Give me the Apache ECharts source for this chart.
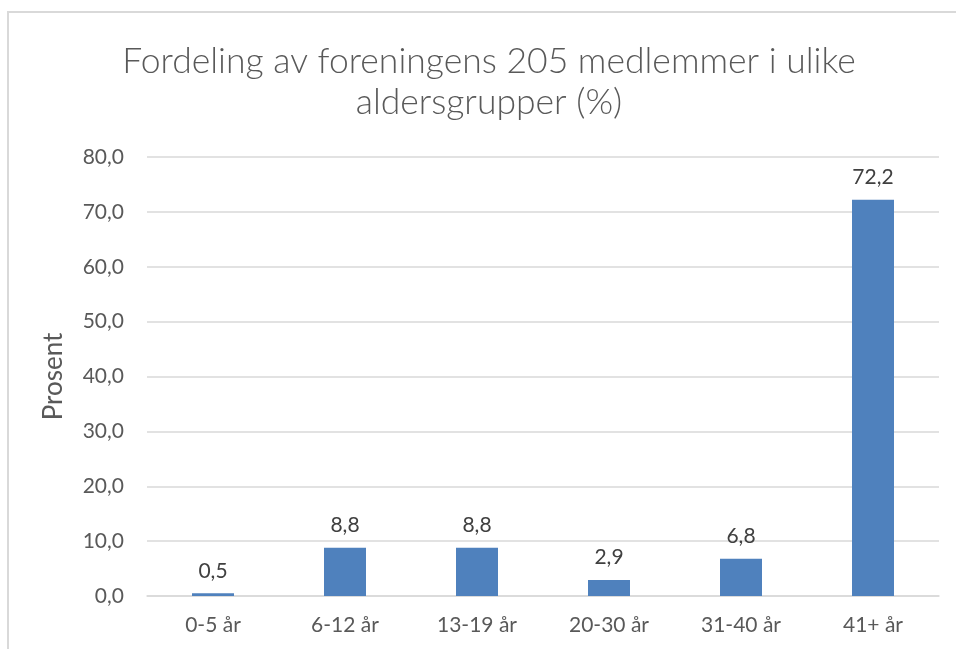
<!DOCTYPE html>
<html><head><meta charset="utf-8">
<script src="https://cdn.jsdelivr.net/npm/echarts@6/dist/echarts.min.js"></script>
<style>html,body{margin:0;padding:0;background:#fff}#c{width:956px;height:649px}</style>
</head><body><div id="c"></div>
<script>
const categories = ['0-5 år', '6-12 år', '13-19 år', '20-30 år', '31-40 år', '41+ år'];
const values = [0.5, 8.8, 8.8, 2.9, 6.8, 72.2];
const titleText = 'Fordeling av foreningens 205 medlemmer i ulike\naldersgrupper (%)';
const yName = 'Prosent';
const fmt = v => Number(v).toFixed(1).replace('.', ',');
const FONT = 'Lato';
const chart = echarts.init(document.getElementById('c'));
chart.setOption({
  animation: false,
  textStyle: {fontFamily: FONT},
  graphic: [{
    type: 'polyline', silent: true,
    shape: {points: [[8, 660], [8, 12], [970, 12]]},
    style: {stroke: '#d9d9d9', lineWidth: 2, fill: null}
  }],
  title: {
    text: titleText, left: 484, textAlign: 'center', top: 36,
    textStyle: {fontFamily: FONT, fontSize: 35.5, fontWeight: 300, color: '#595959', lineHeight: 41}
  },
  grid: {left: 147, right: 17, top: 157, bottom: 53, containLabel: false},
  xAxis: {
    type: 'category', data: categories,
    axisLine: {lineStyle: {color: '#d9d9d9', width: 1.5}},
    axisTick: {show: false},
    axisLabel: {color: '#595959', fontSize: 21, margin: 19, fontFamily: FONT}
  },
  yAxis: {
    type: 'value', min: 0, max: 80, interval: 10,
    name: yName, nameLocation: 'middle', nameGap: 80, nameRotate: 90,
    nameTextStyle: {color: '#595959', fontSize: 26, fontFamily: FONT},
    axisLine: {show: false}, axisTick: {show: false},
    axisLabel: {color: '#595959', fontSize: 21, margin: 23, formatter: fmt, fontFamily: FONT},
    splitLine: {lineStyle: {color: '#d9d9d9', width: 1.5}}
  },
  series: [{
    type: 'bar', data: values, barWidth: 42,
    itemStyle: {color: '#4f81bd'},
    label: {show: true, position: 'top', distance: 12, color: '#404040', fontSize: 21, formatter: p => fmt(p.value), fontFamily: FONT}
  }]
});
</script></body></html>
